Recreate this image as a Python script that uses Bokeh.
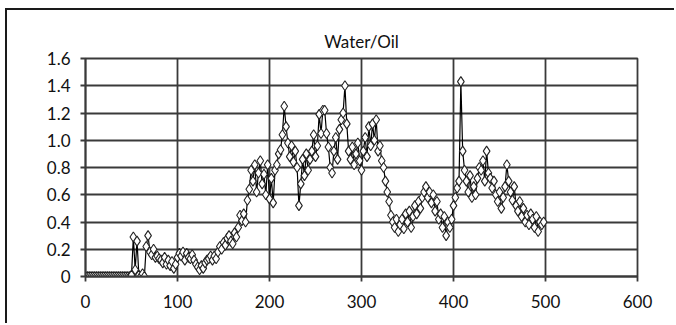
from bokeh.plotting import figure
from bokeh.models import FixedTicker, Range1d
from bokeh.embed import file_html
from bokeh.resources import INLINE

title_text = "Water/Oil"
x_ticks = [0, 100, 200, 300, 400, 500, 600]
y_ticks = [0, 0.2, 0.4, 0.6, 0.8, 1.0, 1.2, 1.4, 1.6]
y_tick_labels = ["0", "0.2", "0.4", "0.6", "0.8", "1.0", "1.2", "1.4", "1.6"]

x_values = list(range(0, 500, 2))
water_oil = [
    0, 0, 0, 0, 0, 0, 0, 0, 0, 0,
    0, 0, 0, 0, 0, 0, 0, 0, 0, 0,
    0, 0, 0, 0, 0, 0.01, 0.29, 0.05, 0.26, 0.01,
    0.0, 0.02, 0.0, 0.22, 0.30, 0.18, 0.16, 0.20, 0.14, 0.15,
    0.13, 0.12, 0.10, 0.14, 0.09, 0.12, 0.08, 0.11, 0.06, 0.09,
    0.14, 0.17, 0.15, 0.18, 0.12, 0.17, 0.14, 0.13, 0.16, 0.12,
    0.09, 0.07, 0.05, 0.08, 0.06, 0.10, 0.12, 0.13, 0.15, 0.12,
    0.15, 0.13, 0.18, 0.22, 0.20, 0.25, 0.23, 0.28, 0.30, 0.26,
    0.24, 0.32, 0.29, 0.36, 0.45, 0.41, 0.46, 0.40, 0.56, 0.64,
    0.78, 0.70, 0.82, 0.62, 0.76, 0.85, 0.68, 0.75, 0.60, 0.82,
    0.57, 0.72, 0.54, 0.78, 0.82, 0.90, 0.93, 1.04, 1.25, 1.10,
    0.98, 0.88, 0.96, 0.84, 0.92, 0.80, 0.52, 0.68, 0.86, 0.74,
    0.90, 0.78, 0.86, 0.92, 1.04, 0.88, 0.96, 1.19, 1.05, 1.22,
    1.22, 1.05, 0.95, 0.80, 0.76, 0.92, 1.02, 0.86, 1.08, 1.15,
    1.20, 1.40, 1.12, 0.92, 0.86, 0.95, 0.82, 0.90, 0.98, 0.85,
    0.78, 0.92, 1.02, 0.88, 1.10, 0.96, 1.12, 1.00, 1.15, 0.92,
    0.96, 0.85, 0.80, 0.70, 0.62, 0.55, 0.45, 0.40, 0.36, 0.42,
    0.33, 0.38, 0.42, 0.35, 0.46, 0.40, 0.48, 0.36, 0.44, 0.52,
    0.46, 0.55, 0.50, 0.58, 0.62, 0.66, 0.58, 0.62, 0.54, 0.60,
    0.48, 0.55, 0.42, 0.46, 0.36, 0.44, 0.30, 0.40, 0.36, 0.42,
    0.52, 0.58, 0.65, 0.70, 1.43, 0.92, 0.78, 0.70, 0.62, 0.74,
    0.58, 0.66, 0.60, 0.72, 0.80, 0.78, 0.85, 0.70, 0.92, 0.76,
    0.72, 0.65, 0.70, 0.60, 0.55, 0.62, 0.50, 0.58, 0.66, 0.82,
    0.70, 0.62, 0.56, 0.66, 0.52, 0.48, 0.55, 0.44, 0.50, 0.40,
    0.45, 0.38, 0.46, 0.42, 0.36, 0.44, 0.33, 0.40, 0.38, 0.40,
]

FONT = "Lato"
GRID = "#3a3a3a"

p = figure(width=669, height=315, output_backend="svg", toolbar_location=None,
           x_range=Range1d(0, 600), y_range=Range1d(0, 1.6),
           min_border_left=78, min_border_right=39, min_border_top=48,
           min_border_bottom=49)
p.styles = {"margin-left": "5px", "margin-top": "8px",
            "border-left": "2px solid #1a1a1a", "border-top": "2px solid #1a1a1a"}

p.title.text = title_text
p.title.align = "center"
p.title.text_font = FONT
p.title.text_font_size = "17px"
p.title.text_font_style = "normal"
p.title.text_color = "#111111"
p.title.offset = 0
p.title.standoff = 14

p.outline_line_color = GRID
p.outline_line_width = 1.8
p.background_fill_color = "white"
p.border_fill_color = "white"

p.xaxis.ticker = FixedTicker(ticks=x_ticks)
p.yaxis.ticker = FixedTicker(ticks=y_ticks)
p.yaxis.major_label_overrides = {t: l for t, l in zip(y_ticks, y_tick_labels)}
p.xaxis.major_label_overrides = {t: str(t) for t in x_ticks}
for ax in (p.xaxis[0], p.yaxis[0]):
    ax.axis_line_color = GRID
    ax.axis_line_width = 1.8
    ax.major_tick_line_color = GRID
    ax.major_tick_line_width = 1.8
    ax.major_tick_out = 5
    ax.major_tick_in = 0
    ax.minor_tick_line_color = None
    ax.major_label_text_font = FONT
    ax.major_label_text_font_size = "17px"
    ax.major_label_text_color = "#111111"
p.yaxis.major_label_standoff = 10
p.xaxis.major_label_standoff = 13

p.xgrid.ticker = FixedTicker(ticks=x_ticks)
p.ygrid.ticker = FixedTicker(ticks=y_ticks)
p.grid.grid_line_color = GRID
p.grid.grid_line_width = 1.8
p.grid.grid_line_alpha = 1.0

p.line(x_values, water_oil, line_color="black", line_width=1.2)
p.scatter(x_values, water_oil, marker="diamond", size=10, fill_color="white",
          line_color="#222222", line_width=1.1)

open("out.html", "w").write(file_html(p, INLINE))
